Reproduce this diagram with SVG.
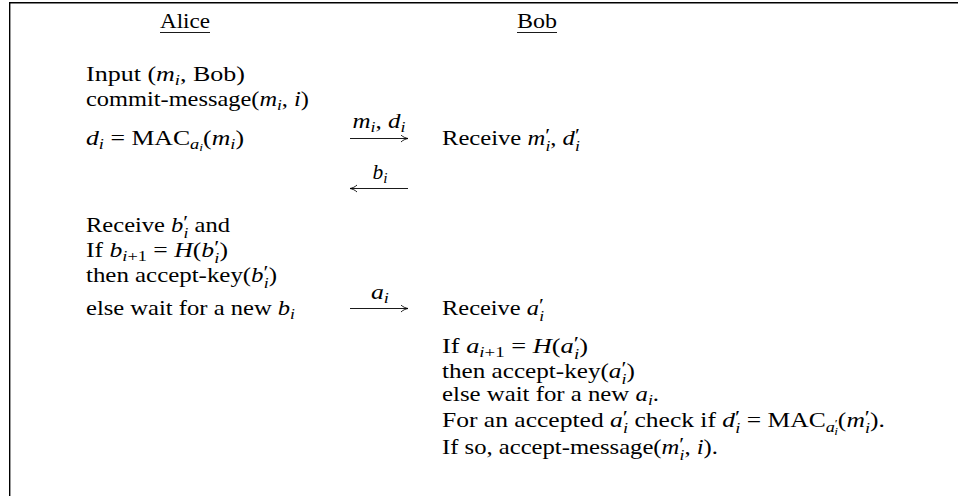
<svg xmlns="http://www.w3.org/2000/svg" width="958" height="496" viewBox="0 0 958 496">
<defs>
<style>
.t{font-family:"Liberation Serif","DejaVu Serif",serif;font-size:21px;fill:#000}
.it{font-style:italic}
.s{font-size:15px}
.ss{font-size:11px}
.p{font-size:19px}
.frame{fill:none;stroke:#000;stroke-width:1.4}
.arr{stroke:#000;stroke-width:0.9;fill:none}
.ul{stroke:#000;stroke-width:0.9}
</style>
<marker id="ah" markerWidth="10" markerHeight="10" refX="7.5" refY="4" orient="auto" markerUnits="userSpaceOnUse">
<path d="M0.5,0.5 C2.5,2.5 5,3.5 7.5,4 C5,4.5 2.5,5.5 0.5,7.5" fill="none" stroke="#000" stroke-width="0.9"/>
</marker>
</defs>
<rect width="958" height="496" fill="#fff"/>
<path class="frame" d="M9.7,496 V2.7 H958"/>

<g id="alice-header">
<text class="t" x="185" y="28" text-anchor="middle" textLength="50" lengthAdjust="spacingAndGlyphs">Alice</text>
<line class="ul" x1="160" y1="32.5" x2="210" y2="32.5"/>
</g>
<g id="bob-header">
<text class="t" x="537" y="28" text-anchor="middle" textLength="40" lengthAdjust="spacingAndGlyphs">Bob</text>
<line class="ul" x1="517" y1="32.5" x2="557" y2="32.5"/>
</g>

<g id="alice-commit">
<text class="t" x="86" y="81" textLength="159" lengthAdjust="spacingAndGlyphs">Input (<tspan class="it">m</tspan><tspan class="s it" dy="4">i</tspan><tspan dy="-4">, Bob)</tspan></text>
<text class="t" x="86" y="106" textLength="223" lengthAdjust="spacingAndGlyphs">commit-message(<tspan class="it">m</tspan><tspan class="s it" dy="4">i</tspan><tspan dy="-4">, </tspan><tspan class="it">i</tspan>)</text>
<text class="t" x="86" y="145" textLength="158" lengthAdjust="spacingAndGlyphs"><tspan class="it">d</tspan><tspan class="s it" dy="4">i</tspan><tspan dy="-4"> = MAC</tspan><tspan class="s it" dy="4">a</tspan><tspan class="ss it" dy="2">i</tspan><tspan dy="-6">(</tspan><tspan class="it">m</tspan><tspan class="s it" dy="4">i</tspan><tspan dy="-4">)</tspan></text>
</g>

<g id="bob-receive-m">
<text class="t" x="442" y="145" textLength="138" lengthAdjust="spacingAndGlyphs">Receive <tspan class="it">m</tspan><tspan class="p" dy="-3">′</tspan><tspan class="s it" dx="-4" dy="9">i</tspan><tspan dy="-6">, </tspan><tspan class="it">d</tspan><tspan class="p" dy="-3">′</tspan><tspan class="s it" dx="-4" dy="9">i</tspan></text>
</g>

<g id="alice-check">
<text class="t" x="86" y="232" textLength="144" lengthAdjust="spacingAndGlyphs">Receive <tspan class="it">b</tspan><tspan class="p" dy="-3">′</tspan><tspan class="s it" dx="-4" dy="9">i</tspan><tspan dy="-6"> and</tspan></text>
<text class="t" x="86" y="257" textLength="142" lengthAdjust="spacingAndGlyphs">If <tspan class="it">b</tspan><tspan class="s it" dy="4">i</tspan><tspan class="s">+1</tspan><tspan dy="-4"> = </tspan><tspan class="it">H</tspan>(<tspan class="it">b</tspan><tspan class="p" dy="-3">′</tspan><tspan class="s it" dx="-4" dy="9">i</tspan><tspan dy="-6">)</tspan></text>
<text class="t" x="86" y="282" textLength="191" lengthAdjust="spacingAndGlyphs">then accept-key(<tspan class="it">b</tspan><tspan class="p" dy="-3">′</tspan><tspan class="s it" dx="-4" dy="9">i</tspan><tspan dy="-6">)</tspan></text>
<text class="t" x="86" y="315" textLength="209" lengthAdjust="spacingAndGlyphs">else wait for a new <tspan class="it">b</tspan><tspan class="s it" dy="4">i</tspan></text>
</g>

<g id="bob-check">
<text class="t" x="442" y="315" textLength="102" lengthAdjust="spacingAndGlyphs">Receive <tspan class="it">a</tspan><tspan class="p" dy="-3">′</tspan><tspan class="s it" dx="-4" dy="9">i</tspan></text>
<text class="t" x="442" y="353" textLength="146" lengthAdjust="spacingAndGlyphs">If <tspan class="it">a</tspan><tspan class="s it" dy="4">i</tspan><tspan class="s">+1</tspan><tspan dy="-4"> = </tspan><tspan class="it">H</tspan>(<tspan class="it">a</tspan><tspan class="p" dy="-3">′</tspan><tspan class="s it" dx="-4" dy="9">i</tspan><tspan dy="-6">)</tspan></text>
<text class="t" x="442" y="378" textLength="193" lengthAdjust="spacingAndGlyphs">then accept-key(<tspan class="it">a</tspan><tspan class="p" dy="-3">′</tspan><tspan class="s it" dx="-4" dy="9">i</tspan><tspan dy="-6">)</tspan></text>
<text class="t" x="442" y="401" textLength="217" lengthAdjust="spacingAndGlyphs">else wait for a new <tspan class="it">a</tspan><tspan class="s it" dy="4">i</tspan><tspan dy="-4">.</tspan></text>
<text class="t" x="442" y="427" textLength="443" lengthAdjust="spacingAndGlyphs">For an accepted <tspan class="it">a</tspan><tspan class="p" dy="-3">′</tspan><tspan class="s it" dx="-4" dy="9">i</tspan><tspan dy="-6"> check if </tspan><tspan class="it">d</tspan><tspan class="p" dy="-3">′</tspan><tspan class="s it" dx="-4" dy="9">i</tspan><tspan dy="-6"> = MAC</tspan><tspan class="s it" dy="5">a</tspan><tspan class="ss" dy="-5">′</tspan><tspan class="ss it" dx="-3" dy="8">i</tspan><tspan dy="-8">(</tspan><tspan class="it">m</tspan><tspan class="p" dy="-3">′</tspan><tspan class="s it" dx="-4" dy="9">i</tspan><tspan dy="-6">).</tspan></text>
<text class="t" x="442" y="454" textLength="276" lengthAdjust="spacingAndGlyphs">If so, accept-message(<tspan class="it">m</tspan><tspan class="p" dy="-3">′</tspan><tspan class="s it" dx="-4" dy="9">i</tspan><tspan dy="-6">, </tspan><tspan class="it">i</tspan>).</text>
</g>

<g id="connectors">
<line class="arr" x1="350" y1="138.5" x2="408" y2="138.5" marker-end="url(#ah)"/>
<text class="t" x="379" y="128" text-anchor="middle" textLength="53" lengthAdjust="spacingAndGlyphs"><tspan class="it">m</tspan><tspan class="s it" dy="4">i</tspan><tspan dy="-4">, </tspan><tspan class="it">d</tspan><tspan class="s it" dy="4">i</tspan></text>
<line class="arr" x1="408" y1="188.5" x2="350" y2="188.5" marker-end="url(#ah)"/>
<text class="t" x="380" y="179" text-anchor="middle" textLength="15" lengthAdjust="spacingAndGlyphs"><tspan class="it">b</tspan><tspan class="s it" dy="4">i</tspan></text>
<line class="arr" x1="350" y1="308.5" x2="408" y2="308.5" marker-end="url(#ah)"/>
<text class="t" x="380" y="299" text-anchor="middle" textLength="18" lengthAdjust="spacingAndGlyphs"><tspan class="it">a</tspan><tspan class="s it" dy="4">i</tspan></text>
</g>
</svg>
